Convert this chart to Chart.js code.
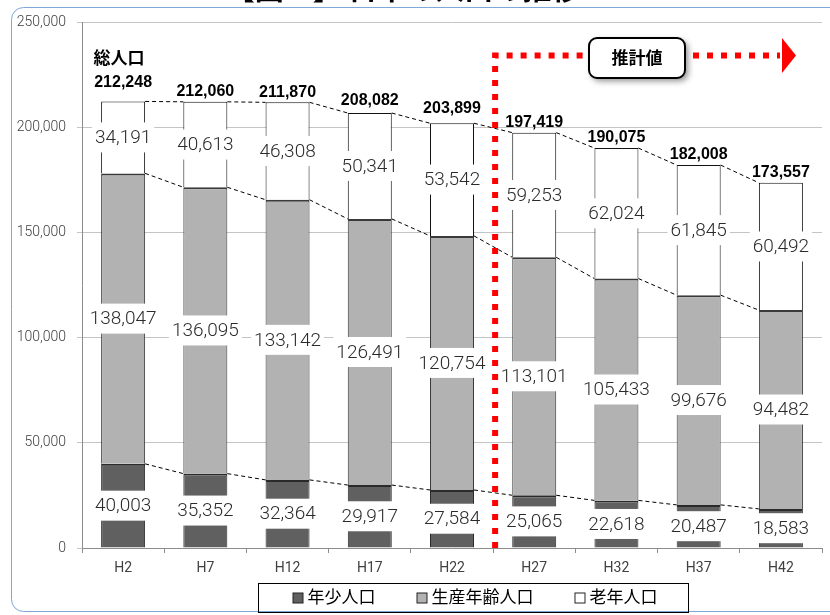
<!DOCTYPE html>
<html>
<head>
<meta charset="utf-8">
<script src="https://cdn.jsdelivr.net/npm/chart.js@4.4.1/dist/chart.umd.min.js"></script>
<style>
  html, body { margin: 0; padding: 0; background: #fff; }
  #wrap { width: 830px; height: 615px; }
</style>
</head>
<body>
<div id="wrap"><canvas id="jinkoChart" width="830" height="615"></canvas></div>
<script>
// données
const categories = ["H2", "H7", "H12", "H17", "H22", "H27", "H32", "H37", "H42"];
const nenshou = [40003, 35352, 32364, 29917, 27584, 25065, 22618, 20487, 18583];
const seisan = [138047, 136095, 133142, 126491, 120754, 113101, 105433, 99676, 94482];
const rounen = [34191, 40613, 46308, 50341, 53542, 59253, 62024, 61845, 60492];
const total = [212248, 212060, 211870, 208082, 203899, 197419, 190075, 182008, 173557];
const seriesNames = ["年少人口", "生産年齢人口", "老年人口"];
const yTicks = [0, 50000, 100000, 150000, 200000, 250000];
const titre = "【図１】 日本の人口の推移";
const totalLabel = "総人口";
const estimLabel = "推計値";
const firstEstimIndex = 5;

const fmt = v => v.toLocaleString("en-US");
const JP = '"Noto Sans CJK JP", sans-serif';

// fond, titre, cadre
const cadrePlugin = {
  id: "cadre",
  beforeDraw(chart) {
    const ctx = chart.ctx;
    ctx.save();
    ctx.fillStyle = "#fff";
    ctx.fillRect(0, 0, chart.width, chart.height);
    ctx.fillStyle = "#000";
    ctx.font = "bold 29px " + JP;
    ctx.textAlign = "center";
    ctx.textBaseline = "alphabetic";
    ctx.fillText(titre, 403, 0);
    ctx.strokeStyle = "#7fa7da";
    ctx.lineWidth = 1;
    ctx.beginPath();
    ctx.roundRect(11.5, 7.5, 840, 604, 12);
    ctx.stroke();
    ctx.restore();
  }
};

// lignes pointillées entre les barres + étiquettes
const etiquettesPlugin = {
  id: "etiquettes",
  afterDatasetsDraw(chart) {
    const ctx = chart.ctx;
    const yScale = chart.scales.y;
    ctx.save();
    // lignes de liaison
    ctx.strokeStyle = "#000";
    ctx.lineWidth = 1;
    ctx.setLineDash([4, 3]);
    chart.data.datasets.forEach((ds, d) => {
      const meta = chart.getDatasetMeta(d);
      for (let i = 0; i < meta.data.length - 1; i++) {
        const a = meta.data[i], b = meta.data[i + 1];
        ctx.beginPath();
        ctx.moveTo(a.x + a.width / 2, a.y);
        ctx.lineTo(b.x - b.width / 2, b.y);
        ctx.stroke();
      }
    });
    ctx.setLineDash([]);

    // valeurs dans les barres
    ctx.font = "300 19px Roboto";
    ctx.textAlign = "center";
    ctx.textBaseline = "middle";
    chart.data.datasets.forEach((ds, d) => {
      const meta = chart.getDatasetMeta(d);
      meta.data.forEach((el, i) => {
        const txt = fmt(ds.data[i]);
        const cy = (el.y + el.base) / 2;
        const w = ctx.measureText(txt).width + 6;
        ctx.fillStyle = "#fff";
        ctx.fillRect(el.x - w / 2, cy - 15, w, 30);
        ctx.fillStyle = "#2b2b2b";
        ctx.fillText(txt, el.x, cy + 1);
      });
    });

    // totaux
    const topMeta = chart.getDatasetMeta(chart.data.datasets.length - 1);
    ctx.fillStyle = "#000";
    ctx.font = "bold 16px 'Liberation Sans'";
    topMeta.data.forEach((el, i) => {
      const y = yScale.getPixelForValue(total[i]) - (i === 0 ? 19 : 10);
      ctx.fillText(fmt(total[i]), el.x, y);
    });
    ctx.font = "bold 17px " + JP;
    ctx.fillText(totalLabel, topMeta.data[0].x - 4, 58);
    ctx.restore();
  }
};

// ligne rouge "推計値"
const estimPlugin = {
  id: "estim",
  afterDraw(chart) {
    const ctx = chart.ctx;
    const x = chart.scales.x;
    const xs = (x.getPixelForValue(firstEstimIndex - 1) + x.getPixelForValue(firstEstimIndex)) / 2 + 2;
    const yb = chart.chartArea.bottom;
    const yl = 55.5;
    ctx.save();
    ctx.strokeStyle = "#ff0000";
    ctx.lineWidth = 6;
    ctx.setLineDash([6, 8]);
    ctx.beginPath();
    ctx.moveTo(xs, yb);
    ctx.lineTo(xs, yl);
    ctx.lineTo(588, yl);
    ctx.stroke();
    ctx.beginPath();
    ctx.moveTo(693, yl);
    ctx.lineTo(780, yl);
    ctx.stroke();
    ctx.setLineDash([]);
    ctx.fillStyle = "#ff0000";
    ctx.beginPath();
    ctx.moveTo(782, 38);
    ctx.lineTo(796, yl);
    ctx.lineTo(782, 73);
    ctx.closePath();
    ctx.fill();

    // boîte
    ctx.shadowColor = "rgba(0,0,0,0.45)";
    ctx.shadowBlur = 6;
    ctx.shadowOffsetX = 3;
    ctx.shadowOffsetY = 3;
    ctx.fillStyle = "#fff";
    ctx.beginPath();
    ctx.roundRect(589, 38, 96, 40, 8);
    ctx.fill();
    ctx.shadowColor = "transparent";
    ctx.strokeStyle = "#000";
    ctx.lineWidth = 2;
    ctx.stroke();
    ctx.fillStyle = "#000";
    ctx.font = "bold 17px " + JP;
    ctx.textAlign = "center";
    ctx.textBaseline = "middle";
    ctx.fillText(estimLabel, 637, 58);
    ctx.restore();
  }
};

// légende encadrée
const legendePlugin = {
  id: "legende",
  afterDraw(chart) {
    const ctx = chart.ctx;
    const bx = 258, by = 583, bw = 430, bh = 29;
    ctx.save();
    ctx.strokeStyle = "#000";
    ctx.lineWidth = 1;
    ctx.strokeRect(bx + 0.5, by + 0.5, bw, bh);
    ctx.font = "17px " + JP;
    ctx.textBaseline = "middle";
    const box = 10, gapText = 5, gapItem = 41;
    const items = chart.data.datasets.map(ds => ({
      label: ds.label, color: ds.backgroundColor, w: box + gapText + ctx.measureText(ds.label).width
    }));
    const totalW = items.reduce((s, it) => s + it.w, 0) + gapItem * (items.length - 1);
    let cx = bx + bw / 2 + 2 - totalW / 2;
    const cy = by + bh / 2;
    items.forEach(it => {
      ctx.fillStyle = it.color;
      ctx.fillRect(cx + 0.5, cy - 4.5, box, box);
      ctx.strokeStyle = "#222";
      ctx.strokeRect(cx + 0.5, cy - 4.5, box, box);
      ctx.fillStyle = "#000";
      ctx.fillText(it.label, cx + box + gapText, cy - 1);
      cx += it.w + gapItem;
    });
    ctx.restore();
  }
};

const ctx = document.getElementById("jinkoChart").getContext("2d");
new Chart(ctx, {
  type: "bar",
  data: {
    labels: categories,
    datasets: [
      {
        label: seriesNames[0],
        data: nenshou,
        backgroundColor: "#606060",
        borderColor: "#2a2a2a",
        borderWidth: { top: 2, left: 1, right: 1, bottom: 0 },
        borderSkipped: "start"
      },
      {
        label: seriesNames[1],
        data: seisan,
        backgroundColor: "#b2b2b2",
        borderColor: "#3a3a3a",
        borderWidth: { top: 2, left: 1, right: 1, bottom: 0 },
        borderSkipped: "start"
      },
      {
        label: seriesNames[2],
        data: rounen,
        backgroundColor: "#ffffff",
        borderColor: "#111",
        borderWidth: { top: 1, left: 1, right: 1, bottom: 0 },
        borderSkipped: "start"
      }
    ]
  },
  options: {
    responsive: false,
    animation: false,
    devicePixelRatio: 1,
    barPercentage: 0.535,
    categoryPercentage: 1,
    layout: { padding: { top: 22, right: 8, left: 0, bottom: 0 } },
    plugins: {
      legend: { display: false },
      title: { display: false },
      tooltip: { enabled: false }
    },
    scales: {
      x: {
        stacked: true,
        grid: { drawOnChartArea: false, offset: true, tickLength: 5, color: "#8c8c8c" },
        border: { color: "#8c8c8c" },
        ticks: { color: "#404040", font: { family: "Roboto", size: 14 }, padding: 7 },
        afterFit: s => { s.height = 67; }
      },
      y: {
        stacked: true,
        min: 0,
        max: 250000,
        afterBuildTicks: s => { s.ticks = yTicks.map(v => ({ value: v })); },
        grid: { color: "#c4c4c4", tickLength: 5 },
        border: { color: "#8c8c8c" },
        ticks: {
          color: "#404040",
          font: { family: "Roboto", size: 14, weight: "300" },
          padding: 11,
          callback: v => fmt(v)
        },
        afterFit: s => { s.width = 82; }
      }
    }
  },
  plugins: [cadrePlugin, etiquettesPlugin, estimPlugin, legendePlugin]
});
</script>
</body>
</html>
